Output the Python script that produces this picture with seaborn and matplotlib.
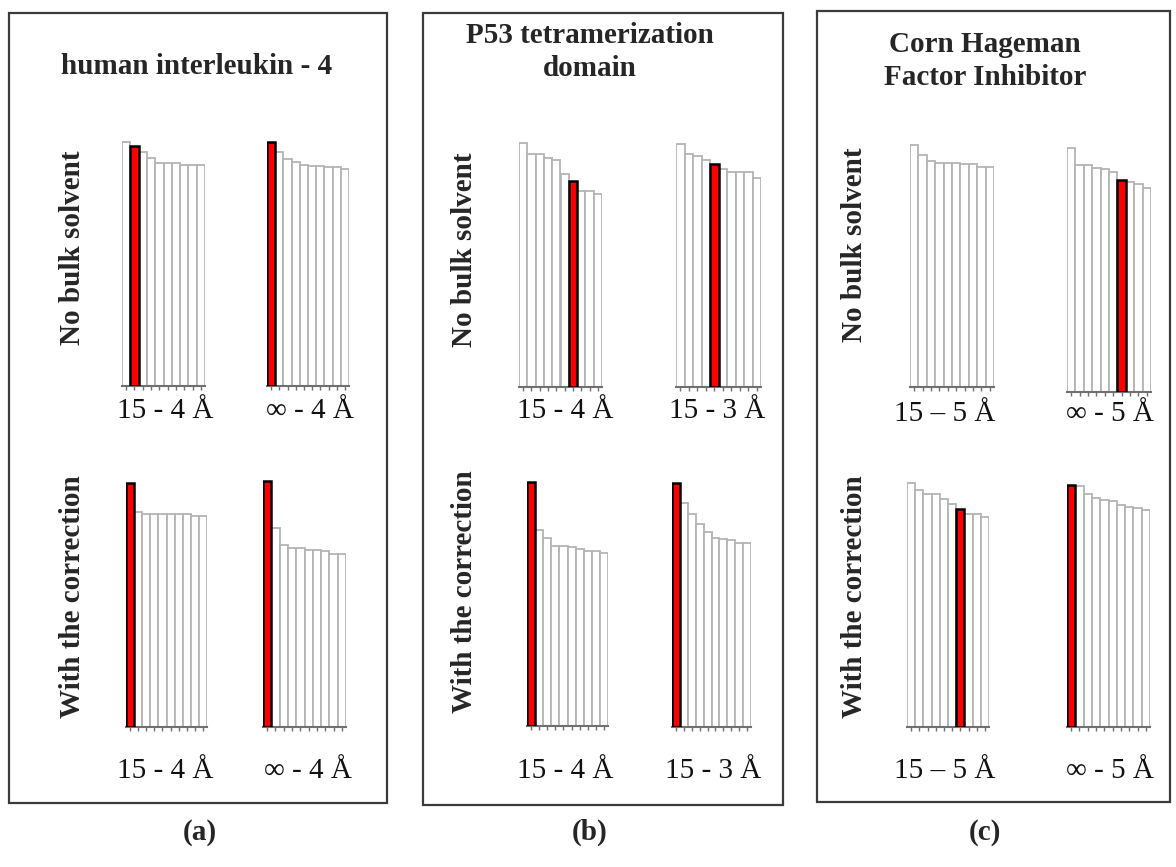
import matplotlib
matplotlib.use("Agg")
import matplotlib.pyplot as plt
from matplotlib.patches import Rectangle
import seaborn as sns

# bar heights (pixel units above the baseline)
il4_nobulk_15_4 = [243.7, 240.3, 234.3, 228.3, 222.7, 222.7, 222.7, 221.0, 221.0, 221.0]
il4_nobulk_inf_4 = [243.7, 234.3, 226.7, 224.3, 221.0, 220.0, 220.0, 219.3, 218.7, 216.7]
il4_corr_15_4 = [244.0, 215.0, 213.3, 213.3, 213.3, 213.3, 213.3, 212.7, 211.0, 211.0]
il4_corr_inf_4 = [245.7, 199.0, 181.7, 179.3, 179.3, 177.3, 177.3, 175.7, 173.3, 173.3]

p53_nobulk_15_4 = [244.3, 232.7, 232.7, 229.0, 226.7, 213.3, 205.7, 195.7, 195.7, 193.3]
p53_nobulk_15_3 = [242.7, 233.3, 231.0, 227.3, 223.3, 217.7, 215.0, 215.0, 215.0, 209.3]
p53_corr_15_4 = [244.3, 196.0, 188.3, 180.3, 180.3, 178.7, 176.7, 175.0, 175.0, 172.7]
p53_corr_15_3 = [244.0, 224.3, 213.3, 203.3, 195.0, 189.0, 188.3, 186.7, 184.0, 184.0]

chfi_nobulk_15_5 = [241.7, 232.3, 226.3, 224.0, 224.0, 224.0, 223.0, 223.0, 219.7, 219.7]
chfi_nobulk_inf_5 = [244.0, 226.7, 226.7, 224.3, 223.3, 220.0, 212.3, 210.0, 208.3, 204.3]
chfi_corr_15_5 = [244.0, 236.7, 232.7, 232.7, 228.3, 222.7, 218.3, 212.7, 212.7, 210.0]
chfi_corr_inf_5 = [242.3, 240.7, 233.3, 229.0, 226.7, 225.7, 221.7, 220.0, 219.0, 216.7]

# index of the highlighted (red) bar, None = no highlight
red_bars = [1, 0, 0, 0, 6, 4, 0, 0, None, 6, 6, 0]

range_labels = ["15 - 4 Å", "∞ - 4 Å", "15 - 4 Å", "∞ - 4 Å",
                "15 - 4 Å", "15 - 3 Å", "15 - 4 Å", "15 - 3 Å",
                "15 – 5 Å", "∞ - 5 Å", "15 – 5 Å", "∞ - 5 Å"]

titles = ["human interleukin - 4", "P53 tetramerization\ndomain",
          "Corn Hageman\nFactor Inhibitor"]
row_labels = ["No bulk solvent", "With the correction"]
panel_tags = ["(a)", "(b)", "(c)"]

series = [il4_nobulk_15_4, il4_nobulk_inf_4, il4_corr_15_4, il4_corr_inf_4,
          p53_nobulk_15_4, p53_nobulk_15_3, p53_corr_15_4, p53_corr_15_3,
          chfi_nobulk_15_5, chfi_nobulk_inf_5, chfi_corr_15_5, chfi_corr_inf_5]

# layout in pixels: (left, right, baseline) of each small chart
W, H = 1176, 867
chart_boxes = [(122, 205, 386), (267, 349, 386), (126, 207, 727), (263, 346, 727),
               (519, 602, 387), (676, 761, 387), (527, 608, 726), (672, 751, 727),
               (910, 994, 387), (1067, 1151, 392), (907, 989, 727), (1067, 1150, 727)]
label_pos = [(165, 411), (310, 411), (165, 771), (308, 771),
             (565, 411), (717, 411), (565, 771), (713, 771),
             (945, 414), (1110, 414), (945, 771), (1110, 771)]
frames = [(9, 13, 387, 803), (423, 13, 783, 805), (817, 11, 1170, 802)]
title_pos = [(197, 67), (590, 52), (985, 61)]
row_x = [72, 465, 855]
row_y = [(248, 597), (250, 592), (245, 597)]
tag_pos = [(200, 832), (590, 832), (985, 832)]

serif = ["Liberation Serif", "DejaVu Serif"]

sns.set_theme(style="white")
plt.rcParams["font.family"] = serif

fig = plt.figure(figsize=(W / 100, H / 100), dpi=100)
fig.patch.set_facecolor("white")

for i, vals in enumerate(series):
    x0, x1, base = chart_boxes[i]
    ax = fig.add_axes([x0 / W, 1 - base / H, (x1 - x0) / W, 250 / H])
    sns.barplot(x=list(range(len(vals))), y=vals, ax=ax, color="white",
                saturation=1, edgecolor="#b4b4b4", linewidth=1.3, width=1.0)
    if red_bars[i] is not None:
        p = ax.patches[red_bars[i]]
        p.set_facecolor("#ff0000")
        p.set_edgecolor("black")
        p.set_linewidth(1.8)
        p.set_zorder(5)
    ax.set_xlim(-0.5, len(vals) - 0.5)
    ax.set_ylim(0, 250)
    ax.set_xlabel("")
    ax.set_ylabel("")
    ax.set_yticks([])
    ax.set_xticklabels([])
    ax.tick_params(axis="x", bottom=True, length=3, width=1, color="#707070")
    for s in ["top", "right", "left"]:
        ax.spines[s].set_visible(False)
    ax.spines["bottom"].set_color("#707070")
    ax.spines["bottom"].set_linewidth(1.5)
    ax.patch.set_alpha(0)
    lx, ly = label_pos[i]
    fig.text(lx / W, 1 - ly / H, range_labels[i], ha="center", va="center",
             fontsize=21, family=serif, color="#111111")

for k in range(3):
    l, t, r, b = frames[k]
    fig.add_artist(Rectangle((l / W, 1 - b / H), (r - l) / W, (b - t) / H,
                             transform=fig.transFigure, fill=False,
                             edgecolor="#3a3a3a", linewidth=1.6))
    tx, ty = title_pos[k]
    fig.text(tx / W, 1 - ty / H, titles[k], ha="center", va="center",
             fontsize=21, fontweight="bold", family=serif, linespacing=1.3)
    for j in range(2):
        fig.text(row_x[k] / W, 1 - row_y[k][j] / H, row_labels[j], rotation=90,
                 ha="center", va="center", fontsize=21, fontweight="bold",
                 family=serif)
    px, py = tag_pos[k]
    fig.text(px / W, 1 - py / H, panel_tags[k], ha="center", va="center",
             fontsize=21, fontweight="bold", family=serif)

fig.savefig("out.png", dpi=100)
